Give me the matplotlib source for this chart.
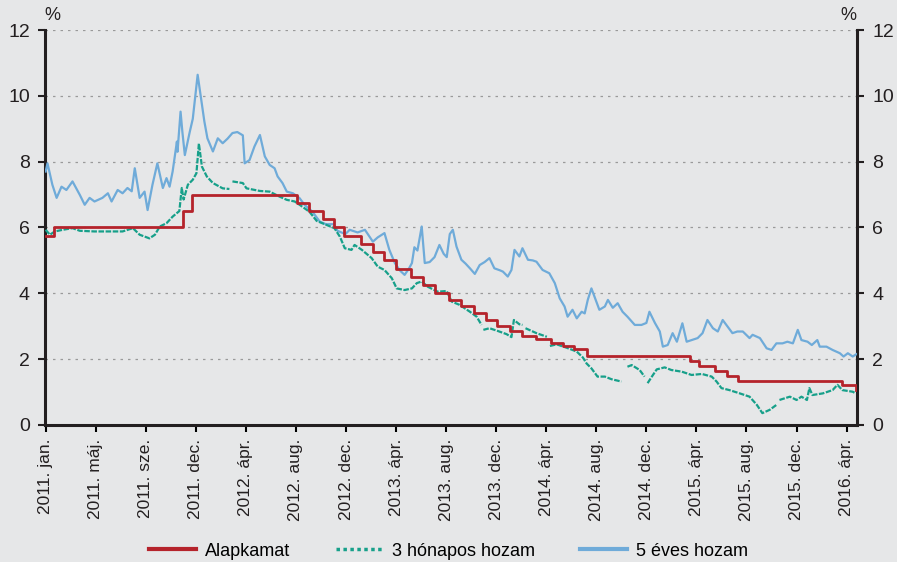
import numpy as np
import matplotlib.pyplot as plt
from matplotlib.lines import Line2D

nan = float("nan")

# x tengely: kereskedési nap sorszáma (0 = 2011. jan. eleje), osztásköz ~82 nap
tick_day = [0, 82, 164, 246, 328, 410, 492, 574, 656, 738, 820, 902, 984,
            1066, 1148, 1230, 1312]
tick_labels = ["2011. jan.", "2011. máj.", "2011. sze.", "2011. dec.",
               "2012. ápr.", "2012. aug.", "2012. dec.", "2013. ápr.",
               "2013. aug.", "2013. dec.", "2014. ápr.", "2014. aug.",
               "2014. dec.", "2015. ápr.", "2015. aug.", "2015. dec.",
               "2016. ápr."]

# Alapkamat (lépcsős): változás napja és új szint
base_day = [0, 13, 225, 240, 411, 431, 454, 473, 489, 517, 536, 555, 574,
            598, 618, 637, 660, 681, 701, 722, 740, 760, 781, 804, 828, 847,
            866, 886, 1055, 1071, 1096, 1116, 1134, 1304, 1327, 1328]
base_rate = [5.75, 6.0, 6.5, 7.0, 6.75, 6.5, 6.25, 6.0, 5.75, 5.5, 5.25, 5.0,
             4.75, 4.5, 4.25, 4.0, 3.8, 3.6, 3.4, 3.2, 3.0, 2.85, 2.7, 2.6,
             2.5, 2.4, 2.3, 2.1, 1.95, 1.8, 1.65, 1.5, 1.35, 1.2, 1.05, 1.05]

# 3 hónapos hozam (nan = hiányzó adat)
y3m_day = [0, 7, 15, 28, 44, 56, 80, 100, 126, 143, 154, 170, 179, 187, 198,
           208, 219, 223, 226, 233, 241, 247, 251, 256, 264, 274, 290, 301,
           303, 306, 323, 329, 351, 367, 383, 395, 408, 416, 432, 444, 473,
           482, 490, 501, 506, 518, 534, 544, 555, 567, 575, 588, 600, 608,
           616, 626, 642, 657, 665, 678, 695, 706, 714, 715, 717, 727, 740,
           755, 763, 767, 776, 781, 783, 786, 804, 821, 823, 826, 837, 853,
           870, 880, 886, 894, 904, 916, 927, 943, 948, 953, 960, 973, 981,
           983, 986, 993, 1001, 1014, 1025, 1042, 1058, 1075, 1091, 1099,
           1107, 1120, 1137, 1153, 1165, 1174, 1186, 1197, 1199, 1202, 1219,
           1230, 1238, 1247, 1251, 1256, 1273, 1289, 1297, 1305, 1322, 1327]
y3m_val = [5.93, 5.78, 5.88, 5.93, 5.98, 5.9, 5.88, 5.88, 5.88, 5.98, 5.78,
           5.67, 5.78, 6.03, 6.13, 6.33, 6.5, 7.2, 6.85, 7.3, 7.45, 7.65,
           8.55, 7.85, 7.55, 7.35, 7.19, 7.17, nan, 7.4, 7.35, 7.19, 7.11,
           7.09, 6.94, 6.84, 6.79, 6.69, 6.48, 6.2, 5.98, 5.72, 5.37, 5.32,
           5.47, 5.32, 5.07, 4.81, 4.71, 4.46, 4.15, 4.1, 4.15, 4.31, 4.36,
           4.2, 4.05, 4.07, 3.75, 3.65, 3.44, 3.29, 3.04, nan, 2.89, 2.94,
           2.86, 2.76, 2.67, 3.19, 3.06, 3.04, nan, 2.94, 2.79, 2.68, nan,
           2.4, 2.45, 2.35, 2.23, 2.05, 1.87, 1.72, 1.47, 1.47, 1.39, 1.32,
           nan, 1.77, 1.82, 1.67, 1.47, nan, 1.27, 1.47, 1.69, 1.75, 1.67,
           1.62, 1.52, 1.55, 1.47, 1.32, 1.12, 1.06, 0.96, 0.86, 0.61, 0.36,
           0.46, 0.61, nan, 0.76, 0.86, 0.76, 0.86, 0.76, 1.12, 0.91, 0.96,
           1.06, 1.22, 1.06, 1.01, 0.96]

# 5 éves hozam
y5y_day = [0, 3, 11, 18, 26, 34, 44, 56, 64, 72, 80, 93, 102, 108, 118, 126,
           134, 141, 146, 154, 162, 167, 175, 183, 192, 198, 203, 208, 215,
           216, 221, 224, 228, 236, 241, 249, 256, 260, 265, 274, 282, 290,
           298, 306, 314, 323, 326, 334, 342, 351, 359, 367, 375, 380, 388,
           395, 405, 416, 424, 437, 449, 459, 472, 478, 491, 498, 511, 523,
           536, 544, 555, 563, 572, 580, 588, 595, 600, 604, 609, 616, 621,
           629, 637, 645, 652, 657, 662, 667, 673, 681, 688, 695, 703, 711,
           719, 727, 735, 744, 749, 757, 763, 768, 776, 781, 790, 798, 804,
           814, 825, 834, 842, 850, 855, 863, 870, 878, 883, 888, 894, 899,
           907, 916, 921, 929, 937, 945, 953, 965, 976, 984, 989, 998, 1006,
           1011, 1019, 1027, 1034, 1043, 1050, 1058, 1068, 1076, 1084, 1093,
           1101, 1109, 1117, 1125, 1133, 1142, 1153, 1158, 1170, 1181, 1189,
           1197, 1207, 1215, 1224, 1232, 1238, 1248, 1255, 1264, 1268, 1279,
           1289, 1301, 1307, 1314, 1322, 1328]
y5y_val = [7.7, 7.95, 7.3, 6.9, 7.24, 7.14, 7.4, 6.99, 6.69, 6.9, 6.79, 6.9,
           7.04, 6.79, 7.14, 7.04, 7.2, 7.1, 7.8, 6.9, 7.09, 6.53, 7.3, 7.95,
           7.2, 7.5, 7.24, 7.7, 8.61, 8.3, 9.52, 8.9, 8.2, 8.9, 9.3, 10.64,
           9.73, 9.22, 8.71, 8.31, 8.71, 8.56, 8.7, 8.87, 8.9, 8.8, 7.95,
           8.05, 8.46, 8.81, 8.16, 7.9, 7.8, 7.55, 7.35, 7.09, 7.04, 6.89,
           6.69, 6.48, 6.18, 6.1, 6.1, 5.9, 5.8, 5.93, 5.85, 5.93, 5.57, 5.7,
           5.83, 5.32, 4.92, 4.7, 4.56, 4.75, 4.92, 5.4, 5.3, 6.03, 4.92,
           4.95, 5.1, 5.47, 5.2, 5.1, 5.8, 5.93, 5.42, 5.02, 4.9, 4.76, 4.59,
           4.86, 4.95, 5.07, 4.76, 4.7, 4.66, 4.51, 4.71, 5.32, 5.12, 5.37,
           5.02, 5.0, 4.96, 4.71, 4.61, 4.31, 3.85, 3.6, 3.29, 3.5, 3.24,
           3.44, 3.39, 3.8, 4.15, 3.9, 3.5, 3.6, 3.8, 3.56, 3.7, 3.44, 3.29,
           3.04, 3.04, 3.1, 3.44, 3.1, 2.84, 2.38, 2.43, 2.79, 2.53, 3.09,
           2.53, 2.58, 2.64, 2.79, 3.19, 2.94, 2.84, 3.19, 2.99, 2.79, 2.84,
           2.84, 2.64, 2.74, 2.64, 2.33, 2.28, 2.48, 2.48, 2.53, 2.48, 2.89,
           2.58, 2.53, 2.43, 2.58, 2.38, 2.38, 2.28, 2.18, 2.08, 2.18, 2.08,
           2.15]

bg = "#e6e7e8"
c_red = "#b5232b"
c_green = "#17a08a"
c_blue = "#6fabd9"
c_txt = "#231f20"

plt.rcParams["font.family"] = ["Liberation Sans", "DejaVu Sans"]
plt.rcParams["font.size"] = 12.5

fig = plt.figure(figsize=(8.97, 5.62), dpi=100, facecolor=bg)
ax = fig.add_axes([0.0502, 0.2438, 0.9052, 0.7028], facecolor=bg)

ax.plot(y5y_day, y5y_val, color=c_blue, lw=1.6, zorder=3)
ax.plot(y3m_day, y3m_val, color=c_green, lw=1.6, ls=(0, (2.5, 0.7)), zorder=4)
ax.step(base_day, base_rate, where="post", color=c_red, lw=2.0, zorder=5)

ax.set_xlim(-1, 1329)
ax.set_ylim(0, 12)
ax.set_yticks(range(0, 13, 2))
ax.yaxis.grid(True, color="#9a9a9a", ls=(0, (2, 4)), lw=0.9)
ax.set_axisbelow(True)

ax.set_xticks(tick_day)
ax.set_xticklabels(tick_labels, rotation=90, color=c_txt)
ax.tick_params(axis="x", length=5, width=1.5, direction="out", pad=5)
ax.tick_params(axis="y", length=5, width=1.5, direction="out", pad=6,
               labelcolor=c_txt, color=c_txt, right=True, labelright=True)
ax.tick_params(axis="y", labelsize=14)

for s in ["left", "right", "bottom"]:
    ax.spines[s].set_linewidth(2.2)
    ax.spines[s].set_color(c_txt)
ax.spines["top"].set_visible(False)

fig.text(0.058, 0.972, "%", ha="center", va="center", color=c_txt,
         fontsize=13)
fig.text(0.946, 0.972, "%", ha="center", va="center", color=c_txt,
         fontsize=13)

handles = [Line2D([], [], color=c_red, lw=3),
           Line2D([], [], color=c_green, lw=2.5, ls=(0, (1, 1))),
           Line2D([], [], color=c_blue, lw=3)]
fig.legend(handles, ["Alapkamat", "3 hónapos hozam", "5 éves hozam"],
           loc="lower center", bbox_to_anchor=(0.5, -0.025), ncol=3,
           frameon=False, handlelength=2.6, columnspacing=2.5,
           handletextpad=0.5, fontsize=13)

fig.savefig("out.png", dpi=100, facecolor=bg)
